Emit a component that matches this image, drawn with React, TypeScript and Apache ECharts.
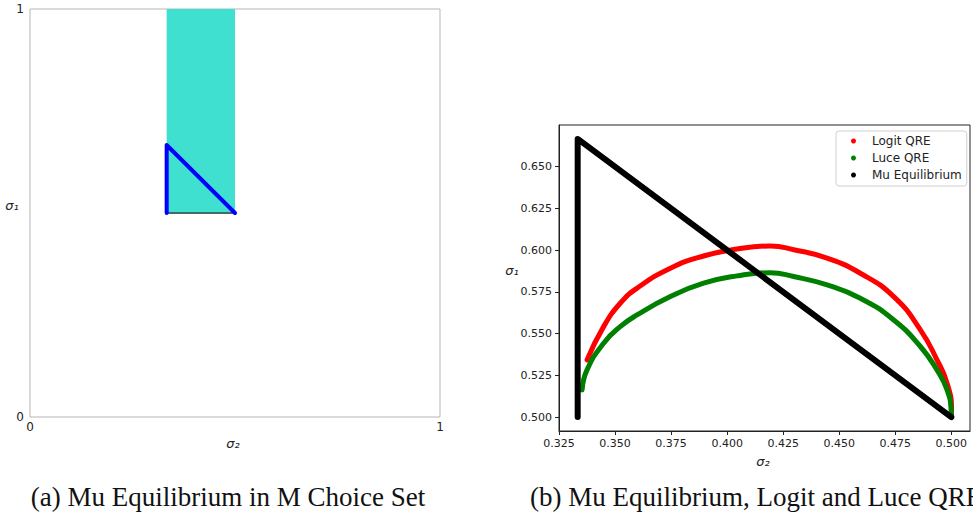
import React, { useEffect, useRef } from "react";
import * as echarts from "echarts";

// ---------- Data ----------
// Panel (a): M choice set region and Mu equilibrium triangle
const choiceSetRect = { x0: 1 / 3, x1: 0.5, y0: 0.5, y1: 1 };
const choiceSetBottom: number[][] = [
  [1 / 3, 0.5],
  [0.5, 0.5],
];
const muTriangleA: number[][] = [
  [1 / 3, 0.5],
  [1 / 3, 2 / 3],
  [0.5, 0.5],
];
const ticksA = [0, 1];

// Panel (b)
const logitQRE: number[][] = [
  [0.3375, 0.5343],
  [0.3449, 0.5542],
  [0.3523, 0.5682],
  [0.3598, 0.5772],
  [0.3747, 0.5892],
  [0.3895, 0.5965],
  [0.4044, 0.6007],
  [0.4193, 0.6025],
  [0.4297, 0.6003],
  [0.4446, 0.5952],
  [0.4594, 0.5862],
  [0.4743, 0.5722],
  [0.4862, 0.5523],
  [0.4936, 0.5343],
  [0.4981, 0.5203],
  [0.5001, 0.5044],
  [0.5, 0.5],
];
const luceQRE: number[][] = [
  [0.3353, 0.5163],
  [0.3375, 0.5283],
  [0.3449, 0.5443],
  [0.3523, 0.5542],
  [0.3598, 0.5612],
  [0.3747, 0.5722],
  [0.3895, 0.5802],
  [0.4044, 0.5846],
  [0.4193, 0.5865],
  [0.4297, 0.5842],
  [0.4446, 0.5792],
  [0.4594, 0.5712],
  [0.4743, 0.5582],
  [0.4862, 0.5423],
  [0.4936, 0.5283],
  [0.4981, 0.5163],
  [0.4999, 0.5044],
  [0.5, 0.5],
];
const muEquilibrium: number[][] = [
  [1 / 3, 0.5],
  [1 / 3, 2 / 3],
  [0.5, 0.5],
];
const xTicksB = [0.325, 0.35, 0.375, 0.4, 0.425, 0.45, 0.475, 0.5];
const yTicksB = [0.5, 0.525, 0.55, 0.575, 0.6, 0.625, 0.65];

const captionA = "(a) Mu Equilibrium in M Choice Set";
const captionB = "(b) Mu Equilibrium, Logit and Luce QRE";

const SANS = "DejaVu Sans";
const SERIF = "Liberation Serif";

export default function App() {
  const ref = useRef<HTMLDivElement>(null);

  useEffect(() => {
    if (!ref.current) return;
    const chart = echarts.init(ref.current, undefined, { renderer: "svg" });

    const axisLabelStyle = { color: "#222", fontFamily: SANS, fontSize: 11 };
    const nameFont = `italic 13px "${SANS}"`;

    chart.setOption({
      animation: false,
      backgroundColor: "#fff",
      grid: [
        { left: 30, top: 9, width: 410, height: 408, show: true, borderColor: "#b5b5b5", borderWidth: 1, backgroundColor: "transparent" },
        { left: 559, top: 125, width: 411, height: 306, show: true, borderColor: "#222", borderWidth: 1, backgroundColor: "transparent" },
      ],
      xAxis: [
        {
          type: "value", gridIndex: 0, min: 0, max: 1,
          splitLine: { show: false },
          axisLine: { show: false },
          axisTick: { show: false },
          axisLabel: { ...axisLabelStyle, fontSize: 12, margin: 4, customValues: ticksA, formatter: (v: number) => String(v) },
        },
        {
          type: "value", gridIndex: 1, min: 0.325, max: 0.5083333,
          splitLine: { show: false },
          axisLine: { show: true, lineStyle: { color: "#222" } },
          axisTick: { show: true, length: 4, lineStyle: { color: "#222" }, customValues: xTicksB },
          axisLabel: { ...axisLabelStyle, margin: 7, customValues: xTicksB, formatter: (v: number) => v.toFixed(3) },
        },
      ],
      yAxis: [
        {
          type: "value", gridIndex: 0, min: 0, max: 1,
          splitLine: { show: false },
          axisLine: { show: false },
          axisTick: { show: false },
          axisLabel: { ...axisLabelStyle, fontSize: 12, margin: 6, customValues: ticksA, formatter: (v: number) => String(v) },
        },
        {
          type: "value", gridIndex: 1, min: 0.4916667, max: 0.675,
          splitLine: { show: false },
          axisLine: { show: true, lineStyle: { color: "#222" } },
          axisTick: { show: true, length: 4, lineStyle: { color: "#222" }, customValues: yTicksB },
          axisLabel: { ...axisLabelStyle, margin: 7, customValues: yTicksB, formatter: (v: number) => v.toFixed(3) },
        },
      ],
      legend: {
        data: [
          { name: "Logit QRE", icon: "circle" },
          { name: "Luce QRE", icon: "circle" },
          { name: "Mu Equilibrium", icon: "circle" },
        ],
        orient: "vertical",
        left: 836,
        top: 131,
        padding: [3, 5, 4, 15],
        itemWidth: 27,
        itemHeight: 5,
        itemGap: 3,
        borderColor: "#d0d0d0",
        borderWidth: 1,
        borderRadius: 3,
        backgroundColor: "#fff",
        textStyle: { color: "#222", fontFamily: SANS, fontSize: 12, lineHeight: 14 },
      },
      series: [
        {
          name: "choiceSetBottom",
          type: "line", xAxisIndex: 0, yAxisIndex: 0,
          data: choiceSetBottom, showSymbol: false, symbol: "none",
          lineStyle: { color: "#3d6e68", width: 2 },
          markArea: {
            silent: true,
            itemStyle: { color: "#40E0D0", opacity: 1 },
            data: [[
              { coord: [choiceSetRect.x0, choiceSetRect.y0] },
              { coord: [choiceSetRect.x1, choiceSetRect.y1] },
            ]],
          },
          z: 2,
        },
        {
          name: "muTriangleA",
          type: "line", xAxisIndex: 0, yAxisIndex: 0,
          data: muTriangleA, showSymbol: false, symbol: "none",
          lineStyle: { color: "#0000ff", width: 4, cap: "round", join: "round" },
          z: 3,
        },
        {
          name: "Logit QRE",
          type: "line", xAxisIndex: 1, yAxisIndex: 1,
          data: logitQRE, showSymbol: false, symbol: "circle", smooth: 0.5,
          itemStyle: { color: "#ff0000" },
          lineStyle: { color: "#ff0000", width: 5, cap: "round", join: "round" },
          z: 2,
        },
        {
          name: "Luce QRE",
          type: "line", xAxisIndex: 1, yAxisIndex: 1,
          data: luceQRE, showSymbol: false, symbol: "circle", smooth: 0.5,
          itemStyle: { color: "#008000" },
          lineStyle: { color: "#008000", width: 5, cap: "round", join: "round" },
          z: 3,
        },
        {
          name: "Mu Equilibrium",
          type: "line", xAxisIndex: 1, yAxisIndex: 1,
          data: muEquilibrium, showSymbol: false, symbol: "circle",
          itemStyle: { color: "#000000" },
          lineStyle: { color: "#000000", width: 6, cap: "round", join: "round" },
          z: 4,
        },
      ],
      graphic: [
        { type: "text", x: 12, y: 205, style: { text: "σ₁", align: "center", verticalAlign: "middle", font: nameFont, fill: "#222" } },
        { type: "text", x: 233, y: 443, style: { text: "σ₂", align: "center", verticalAlign: "middle", font: nameFont, fill: "#222" } },
        { type: "text", x: 512, y: 270, style: { text: "σ₁", align: "center", verticalAlign: "middle", font: nameFont, fill: "#222" } },
        { type: "text", x: 763, y: 461, style: { text: "σ₂", align: "center", verticalAlign: "middle", font: nameFont, fill: "#222" } },
        {
          type: "text", x: 228, y: 497,
          style: { text: captionA, align: "center", verticalAlign: "middle", font: `27px "${SERIF}"`, fill: "#111" },
        },
        {
          type: "text", x: 530, y: 497,
          style: { text: captionB, align: "left", verticalAlign: "middle", font: `27px "${SERIF}"`, fill: "#111" },
        },
      ],
    });

    return () => chart.dispose();
  }, []);

  return (
    <div
      ref={ref}
      style={{ position: "fixed", left: 0, top: 0, width: 973, height: 513, background: "#fff" }}
    />
  );
}
